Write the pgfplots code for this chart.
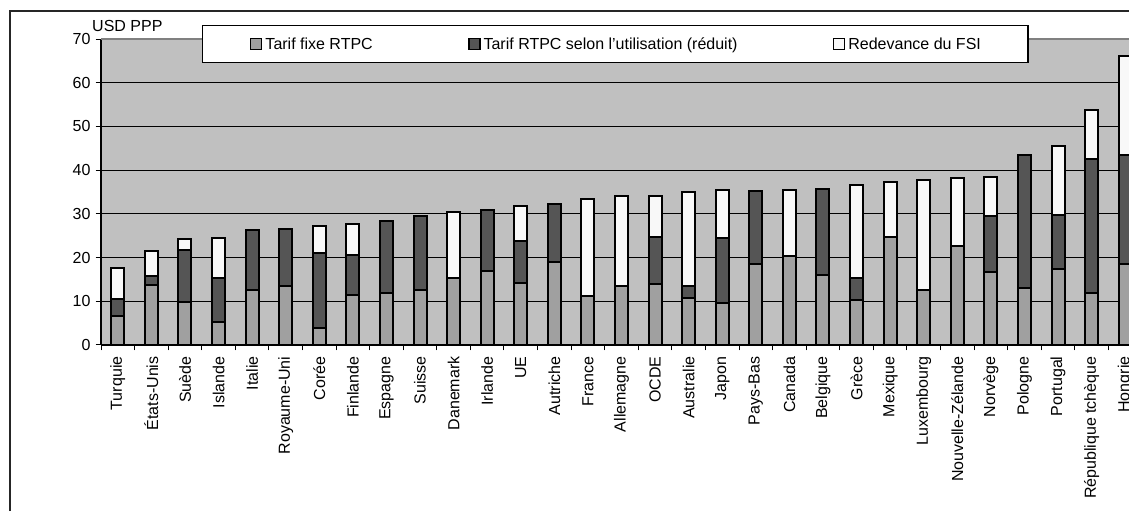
\documentclass[border=0pt]{standalone}
\usepackage{pgfplots}
\pgfplotsset{compat=1.18}
\usepackage{pgfplotstable}
\usepackage{fontspec}
\setmainfont{Liberation Sans}
\definecolor{plotgray}{HTML}{C0C0C0}
\definecolor{fixegray}{HTML}{A0A0A0}
\definecolor{usagegray}{HTML}{555555}
\definecolor{fsiwhite}{HTML}{F8F8F8}
\definecolor{bordergray}{HTML}{808080}

\pgfplotstableread{
x fixe usage fsi
0 6.6 3.9 7.2
1 13.7 2.1 5.6
2 9.9 11.9 2.4
3 5.3 10.1 9.0
4 12.6 13.7 0
5 13.6 13.0 0
6 4.0 17.1 6.2
7 11.4 9.1 7.2
8 11.8 16.6 0
9 12.6 17.0 0
10 15.3 0 15.1
11 16.9 14.0 0
12 14.1 9.7 8.1
13 18.9 13.4 0
14 11.1 0 22.4
15 13.6 0 20.4
16 13.9 10.7 9.4
17 10.8 2.6 21.6
18 9.7 14.7 11.0
19 18.5 16.8 0
20 20.4 0 15.0
21 16.0 19.7 0
22 10.2 5.2 21.2
23 24.6 0 12.7
24 12.6 0 25.2
25 22.7 0 15.6
26 16.8 12.7 9.0
27 13.1 30.3 0
28 17.3 12.5 15.8
29 11.8 30.7 11.2
30 18.5 25.0 22.7
}\data

\begin{document}
\begin{tikzpicture}[font=\fontsize{16}{19}\selectfont]
\useasboundingbox (0,0) rectangle (1129pt,511pt);
\draw[line width=1.3pt, black!85] (10pt,0pt) -- (10pt,500pt) -- (1129pt,500pt);
\begin{axis}[
  at={(101pt,166pt)}, anchor=south west,
  scale only axis, width=1028pt, height=306pt,
  xmin=-0.5, xmax=30.113, ymin=0, ymax=70,
  ybar stacked, bar width=13pt,
  axis background/.style={fill=plotgray},
  axis x line*=bottom, axis y line*=left,
  axis line style={black, line width=1.1pt},
  /pgf/number format/assume math mode=true,
  ytick={0,10,...,70},
  minor ytick={0,10,...,70},
  ymajorgrids, grid style={black, line width=0.8pt},
  xtick={0,...,30},
  xticklabels={Turquie,États-Unis,Suède,Islande,Italie,Royaume-Uni,Corée,Finlande,Espagne,Suisse,Danemark,Irlande,UE,Autriche,France,Allemagne,OCDE,Australie,Japon,Pays-Bas,Canada,Belgique,Grèce,Mexique,Luxembourg,Nouvelle-Zélande,Norvège,Pologne,Portugal,République tchèque,Hongrie},
  minor xtick={-0.5,0.5,...,29.5},
  tick align=outside, major tick length=0pt, minor tick length=5.5pt,
  tick style={black, line width=1pt},
  x tick label style={rotate=90, anchor=east, xshift=-8pt},
  y tick label style={xshift=-7pt},
  legend columns=3,
  legend style={at={(0.5003,0.9837)}, anchor=center, draw=black, line width=1.2pt,
    fill=white, inner xsep=47pt, inner ysep=12pt,
    nodes={inner sep=0pt},
    /tikz/every odd column/.style={column sep=3pt},
    /tikz/every even column/.style={column sep=95pt}},
  legend cell align=left,
  legend image code/.code={\draw[#1, draw=black, line width=1.8pt] (0pt,-5.5pt) rectangle (11pt,5.5pt);},
  after end axis/.code={\draw[bordergray, line width=1.5pt] (rel axis cs:0,1) -- (rel axis cs:1,1);},
]
\addplot[draw=black, line width=2pt, fill=fixegray] table[x=x, y=fixe] \data;
\addplot[draw=black, line width=2pt, fill=usagegray] table[x=x, y=usage] \data;
\addplot[draw=black, line width=2pt, fill=fsiwhite] table[x=x, y=fsi] \data;
\legend{Tarif fixe RTPC, Tarif RTPC selon l’utilisation (réduit), Redevance du FSI}
\end{axis}
\node[anchor=base west, inner sep=0pt] at (92pt,479pt) {USD PPP};
\end{tikzpicture}
\end{document}
